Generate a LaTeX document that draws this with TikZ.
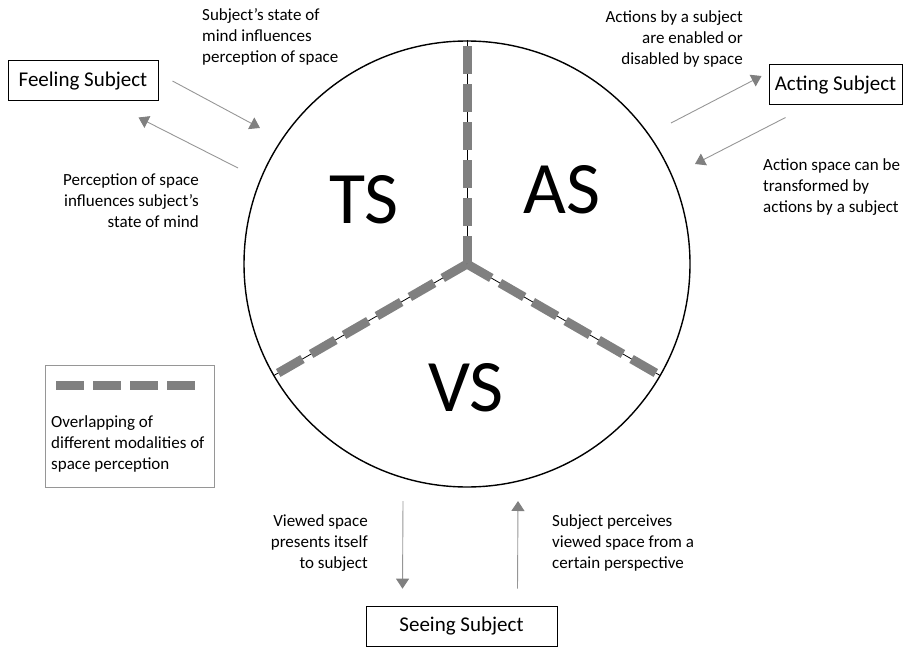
\documentclass[tikz,border=0pt]{standalone}
\usepackage{fontspec}
\setmainfont{Carlito}
\usetikzlibrary{arrows.meta}
\usetikzlibrary{positioning}

\definecolor{dashgray}{RGB}{128,128,128}
\definecolor{linegray}{RGB}{150,150,150}

\begin{document}
\begin{tikzpicture}[x=1pt,y=-1pt,
        subject/.style={draw,line width=1pt,minimum height=40pt,inner sep=0pt,font=\fontsize{21}{25}\selectfont},
        remark/.style={inner sep=0pt,font=\fontsize{17}{21}\selectfont},
        modality/.style={inner sep=0pt,font=\fontsize{74}{80}\selectfont},
        flow/.style={draw=linegray,line width=0.9pt,-{Triangle[width=13pt,length=10pt,color=dashgray,fill=dashgray]}},
        overlap/.style={draw=dashgray,line width=9pt,dash pattern=on 28pt off 10pt}]
        \useasboundingbox (0,0) rectangle (904,647);

        \node[circle,draw,line width=1.4pt,minimum size=446pt,inner sep=0pt] (space) at (467,264) {};

        \foreach \a in {90,210,330} {
            \draw[line width=0.8pt] (space.center) -- (space.\a);
            \draw[overlap] (space.center) -- (space.\a);
        }

        \node[modality] (TS) at (364,200) {TS};
        \node[modality] (AS) at (562,190) {AS};
        \node[modality] (VS) at (466,388) {VS};

        \node[subject,minimum width=150pt] (feeling) at (83,81) {Feeling Subject};
        \node[subject,minimum width=133pt] (acting) at (835.5,85) {Acting Subject};
        \node[subject,minimum width=191pt,below=118pt of space,xshift=-5.5pt] (seeing) {Seeing Subject};

        % feeling subject
        \coordinate (ts_in)  at (260,128);
        \coordinate (ts_out) at (238,168);
        \draw[flow] ([xshift=14pt]feeling.east) -- (ts_in);
        \draw[flow] (ts_out) -- ([xshift=-20pt,yshift=-16pt]feeling.south east);
        \node[remark,anchor=north west,align=left] (mind2space) at (202,8)
            {Subject’s state of\\mind influences\\perception of space};
        \node[remark,anchor=north east,align=right] (space2mind) at (199,174)
            {Perception of space\\influences subject’s\\state of mind};

        % acting subject
        \coordinate (as_out) at (671,123);
        \coordinate (as_in)  at (695,164);
        \draw[flow] (as_out) -- ([xshift=-7pt,yshift=9pt]acting.west);
        \draw[flow] ([xshift=17pt,yshift=-12pt]acting.south west) -- (as_in);
        \node[remark,anchor=north east,align=right] (enabled) at (743,10)
            {Actions by a subject\\are enabled or\\disabled by space};
        \node[remark,anchor=north west,align=left] (transformed) at (763,158)
            {Action space can be\\transformed by\\actions by a subject};

        % seeing subject
        \coordinate (vs_out) at (403,501);
        \coordinate (vs_in)  at (518,501);
        \draw[flow] (vs_out) -- ([xshift=37pt,yshift=17pt]seeing.north west);
        \draw[flow] ([xshift=152pt,yshift=17pt]seeing.north west) -- (vs_in);
        \node[remark,anchor=north east,align=right] (presents) at (368,514)
            {Viewed space\\presents itself\\to subject};
        \node[remark,anchor=north west,align=left] (perceives) at (552,514)
            {Subject perceives\\viewed space from a\\certain perspective};

        % legend
        \node[draw=linegray,line width=1pt,minimum width=169pt,minimum height=122pt,anchor=north west] (legend) at (45,365) {};
        \draw[draw=dashgray,line width=9pt,dash pattern=on 28pt off 9pt]
            ([xshift=11pt,yshift=-20pt]legend.north west) -- ([xshift=-17pt,yshift=-20pt]legend.north east);
        \node[remark,anchor=north west,align=left] (overlapping) at (51,415)
            {Overlapping of\\different modalities of\\space perception};
    \end{tikzpicture}
\end{document}
